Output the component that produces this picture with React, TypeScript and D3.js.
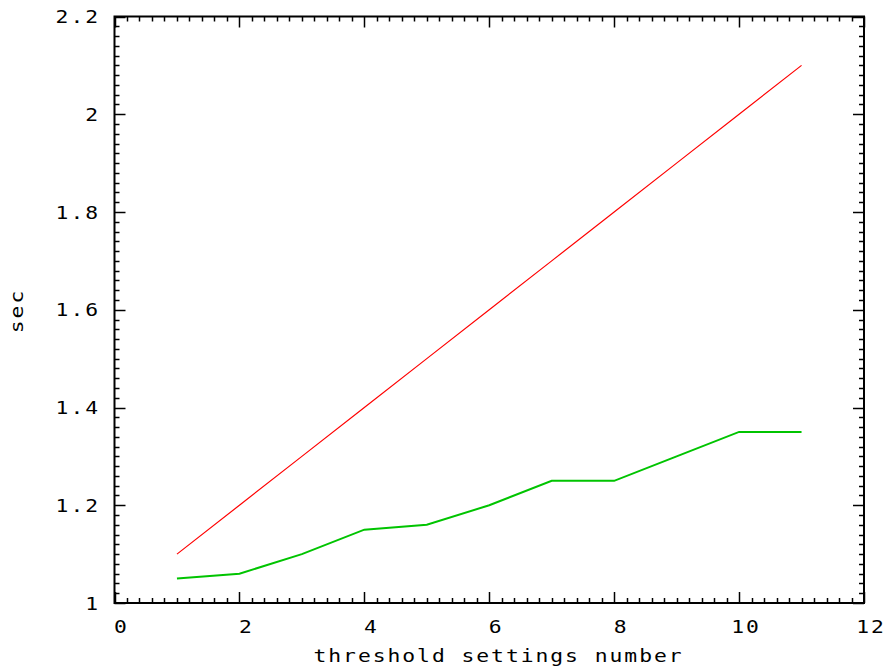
import React from "react";
import * as d3 from "d3";

const xValues = [1, 2, 3, 4, 5, 6, 7, 8, 9, 10, 11];
const redValues = [1.1, 1.2, 1.3, 1.4, 1.5, 1.6, 1.7, 1.8, 1.9, 2.0, 2.1];
const greenValues = [1.05, 1.06, 1.1, 1.15, 1.16, 1.2, 1.25, 1.25, 1.3, 1.35, 1.35];
const xTickLabels = [0, 2, 4, 6, 8, 10, 12];
const yTickLabels = [1, 1.2, 1.4, 1.6, 1.8, 2, 2.2];
const xTitle = "threshold settings number";
const yTitle = "sec";

const W = 886;
const H = 672;
const L = 114.5;
const R = 864;
const T = 16.5;
const B = 603;

const FONT = "'DejaVu Sans Mono', 'Liberation Mono', monospace";
const FS = 17.5;
const SX = 1.22;
const LS = 1.6;

function Label({
  x,
  y,
  anchor,
  rotate = 0,
  children,
}: {
  x: number;
  y: number;
  anchor: "start" | "middle" | "end";
  rotate?: number;
  children: string;
}) {
  return (
    <g transform={`translate(${x},${y}) rotate(${rotate}) scale(${SX},1)`}>
      <text x={0} y={0} textAnchor={anchor} fontSize={FS} letterSpacing={LS} fill="#000">
        {children}
      </text>
    </g>
  );
}

export default function App() {
  const x = d3.scaleLinear().domain([0, 12]).range([L, R]);
  const y = d3.scaleLinear().domain([1, 2.2]).range([B, T]);

  const line = (vals: number[]) =>
    d3
      .line<number>()
      .x((_, i) => x(xValues[i]))
      .y((d) => y(d))(vals) as string;

  const xMinor = d3.range(0, 12.0001, 0.2).map((v) => Math.round(v * 10) / 10);
  const yMinor = d3.range(1, 2.2001, 0.02).map((v) => Math.round(v * 100) / 100);
  const isXMajor = (v: number) => Math.abs(v / 2 - Math.round(v / 2)) < 1e-6;
  const isYMajor = (v: number) => Math.abs(v / 0.2 - Math.round(v / 0.2)) < 1e-6;

  const MAJ = 11;
  const MIN = 5;

  return (
    <svg
      width={W}
      height={H}
      style={{ position: "absolute", left: 0, top: 0, background: "#fff" }}
      fontFamily={FONT}
    >
      <rect x={0} y={0} width={W} height={H} fill="#fff" />
      <g stroke="#000" strokeWidth={1.5}>
        {xMinor.map((v, i) => {
          const len = isXMajor(v) ? MAJ : MIN;
          const px = Math.round(x(v)) + 0.5;
          return (
            <g key={"xt" + i}>
              <line x1={px} x2={px} y1={B} y2={B - len} />
              <line x1={px} x2={px} y1={T} y2={T + len} />
            </g>
          );
        })}
        {yMinor.map((v, i) => {
          const len = isYMajor(v) ? MAJ : MIN;
          const py = Math.round(y(v)) + 0.5;
          return (
            <g key={"yt" + i}>
              <line x1={L} x2={L + len} y1={py} y2={py} />
              <line x1={R} x2={R - len} y1={py} y2={py} />
            </g>
          );
        })}
      </g>
      <path d={line(redValues)} fill="none" stroke="#ff0000" strokeWidth={1.2} />
      <path d={line(greenValues)} fill="none" stroke="#00c400" strokeWidth={2} />
      <rect x={L} y={T} width={R - L} height={B - T} fill="none" stroke="#000" strokeWidth={2} />
      {xTickLabels.map((v) => (
        <Label key={"xl" + v} x={x(v) + 7} y={633} anchor="middle">
          {String(v)}
        </Label>
      ))}
      {yTickLabels.map((v) => (
        <Label key={"yl" + v} x={100} y={y(v) + 6.5} anchor="end">
          {String(v)}
        </Label>
      ))}
      <Label x={498.5} y={662} anchor="middle">
        {xTitle}
      </Label>
      <Label x={23} y={311} anchor="middle" rotate={-90}>
        {yTitle}
      </Label>
    </svg>
  );
}
